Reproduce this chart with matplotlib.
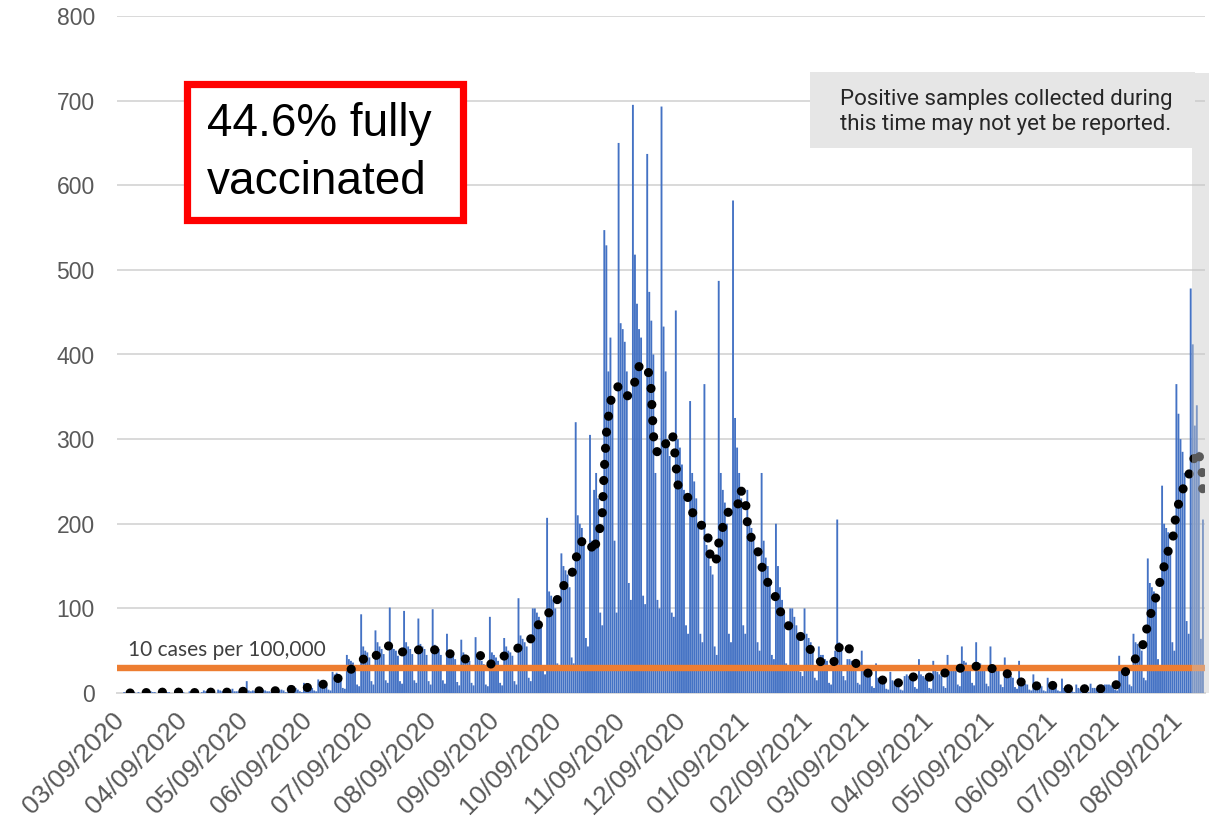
import datetime as dt
import numpy as np
import matplotlib.pyplot as plt
from matplotlib.patches import Rectangle

# daily positive cases, one row per week starting Mon 03/09/2020
start = dt.date(2020, 3, 9)
daily_cases = [
    0, 0, 1, 0, 0, 0, 1,
    1, 0, 1, 0, 0, 0, 2,
    1, 2, 1, 1, 0, 0, 2,
    2, 1, 1, 1, 0, 0, 3,
    1, 1, 2, 1, 0, 0, 2,
    1, 2, 1, 1, 0, 1, 3,
    2, 1, 2, 1, 1, 0, 4,
    3, 2, 2, 2, 1, 0, 5,
    2, 2, 2, 1, 1, 1, 14,
    3, 2, 3, 2, 1, 1, 6,
    4, 3, 2, 2, 1, 1, 5,
    4, 3, 4, 3, 1, 1, 9,
    6, 5, 6, 4, 2, 1, 12,
    9, 8, 8, 6, 3, 2, 16,
    14, 13, 12, 10, 4, 3, 25,
    22, 24, 20, 16, 6, 5, 45,
    40, 38, 36, 30, 10, 8, 93,
    55, 50, 48, 42, 14, 10, 74,
    60, 55, 52, 46, 15, 12, 101,
    55, 52, 50, 44, 14, 11, 97,
    60, 55, 52, 46, 15, 12, 88,
    58, 55, 52, 45, 14, 10, 99,
    57, 55, 52, 45, 15, 11, 70,
    50, 46, 44, 40, 13, 9, 63,
    48, 44, 42, 38, 12, 9, 66,
    44, 40, 38, 34, 10, 8, 90,
    48, 45, 42, 38, 12, 9, 65,
    55, 50, 48, 44, 14, 10, 112,
    68, 64, 60, 55, 18, 14, 100,
    100, 95, 90, 82, 28, 22, 207,
    120, 115, 110, 100, 35, 28, 165,
    150, 145, 140, 125, 42, 35, 320,
    210, 200, 195, 175, 65, 55, 305,
    180, 240, 260, 230, 95, 80, 547,
    529, 380, 420, 350, 180, 95, 650,
    437, 430, 415, 380, 130, 110, 695,
    518, 460, 430, 420, 115, 105, 637,
    474, 440, 400, 260, 110, 100, 693,
    433, 380, 300, 280, 95, 90, 452,
    300, 290, 270, 240, 80, 70, 345,
    260, 250, 230, 200, 70, 60, 365,
    175, 165, 150, 140, 55, 45, 487,
    260, 240, 225, 200, 70, 60, 582,
    325, 290, 260, 230, 80, 70, 240,
    200, 195, 180, 165, 60, 50, 260,
    180, 160, 150, 130, 45, 40, 200,
    150, 125, 110, 95, 35, 30, 100,
    100, 90, 80, 70, 25, 20, 100,
    70, 65, 60, 55, 18, 15, 55,
    45, 45, 40, 38, 12, 10, 40,
    50, 205, 60, 55, 20, 15, 40,
    40, 38, 35, 32, 12, 10, 50,
    28, 26, 24, 22, 8, 6, 35,
    18, 17, 16, 14, 5, 4, 25,
    15, 14, 13, 12, 4, 3, 20,
    22, 20, 19, 18, 7, 5, 40,
    22, 20, 18, 17, 6, 5, 38,
    26, 25, 22, 20, 8, 6, 45,
    33, 32, 30, 26, 10, 8, 55,
    38, 36, 33, 30, 12, 9, 60,
    36, 35, 33, 28, 11, 8, 55,
    32, 30, 28, 26, 10, 7, 42,
    24, 22, 20, 18, 7, 5, 38,
    13, 12, 11, 10, 4, 3, 22,
    10, 9, 8, 8, 3, 2, 18,
    10, 9, 8, 7, 3, 2, 17,
    6, 6, 5, 5, 2, 1, 10,
    6, 5, 5, 5, 2, 1, 11,
    6, 6, 5, 5, 2, 1, 10,
    10, 10, 9, 8, 4, 3, 44,
    30, 28, 26, 24, 10, 8, 70,
    60, 58, 55, 50, 18, 15, 159,
    130, 125, 120, 110, 40, 32, 245,
    200, 195, 190, 170, 60, 50, 365,
    330, 300, 285, 260, 85, 70, 478,
    412, 316, 340, 285, 64, 205,
]

# 7-day average (days since 03/09/2020)
avg_day = [4.9, 13.2, 21, 28.9, 36.7, 44.5, 52.3, 60.2, 67.5, 75.3, 83.2, 90.5,
           98.3, 105.2, 111.5, 116.9, 121.3, 126.2, 131.6, 137, 143.8, 150.2,
           156.6, 162.9, 169.3, 176.1, 180.5, 185.4, 189.3, 194.7, 200.6, 204,
           209, 211.8, 215.8, 217.7, 222.1, 223.6, 226.5, 229.9, 231.9, 233.4,
           235.8, 236.5, 237.3, 238.3, 239.7, 240.7, 243.6, 245.6, 247.1, 250.5,
           252.4, 254.4, 258.3, 259.8, 260.5, 261.2, 261.7, 264.2, 266.6, 267.6,
           270.5, 271.5, 273, 277.4, 279.4, 282.3, 287.2, 289.1, 291.6, 292.6,
           294.5, 296.5, 299.4, 302.3, 303.3, 305.8, 306.5, 307.2, 309.7, 313.1,
           314.6, 317.5, 320.9, 323.4, 327.3, 332.7, 337.1, 341, 345.9, 351.3,
           352.2, 356.6, 358.6, 362, 367.4, 374.3, 381.1, 388, 394.8, 401.7,
           409, 415.9, 423.2, 430, 435.9, 442.3, 449.6, 456.9, 464.3, 472.1,
           479.9, 487.3, 491.7, 496.6, 500.5, 502.4, 504.4, 506.8, 508.8, 510.8,
           512.7, 515.2, 516.1, 517.6, 519.6, 522.5, 524.5, 527.4, 529.5, 530]
avg_cases = [0, 0.5, 1, 1, 0.5, 1, 1, 2, 2.5, 2.5, 4, 6,
             9.5, 14.6, 26, 33, 47, 44, 56, 48, 51, 51,
             51, 45, 40, 45, 32, 43, 44, 53, 62, 79,
             90, 106, 114, 132, 145, 164, 182, 179, 165, 184,
             202, 240, 278, 317, 335, 354, 362, 354, 349, 355,
             372, 389, 383, 363, 330, 300, 287, 283, 286, 305,
             304, 284, 246, 235, 218, 201, 195, 156, 154, 173,
             192, 208, 222, 221, 240, 235, 215, 196, 178, 163,
             144, 128, 113, 95, 79, 68, 54, 40, 32, 40,
             59, 54, 41, 28, 22, 14, 12, 19, 18, 22,
             28, 32, 31, 27, 21, 11, 8, 9, 5, 5,
             5, 9, 24, 39, 56, 75, 93, 112, 130, 148,
             166, 181, 200, 219, 238, 252, 271, 287, 268, 231]

tick_labels = ["03/09/2020", "04/09/2020", "05/09/2020", "06/09/2020",
               "07/09/2020", "08/09/2020", "09/09/2020", "10/09/2020",
               "11/09/2020", "12/09/2020", "01/09/2021", "02/09/2021",
               "03/09/2021", "04/09/2021", "05/09/2021", "06/09/2021",
               "07/09/2021", "08/09/2021"]
threshold = 29.5

TICK_FONT = ["Liberation Sans", "DejaVu Sans"]

fig = plt.figure(figsize=(12.12, 8.22), dpi=100)
ax = fig.add_axes([117 / 1212, 1 - 693 / 822, 1088 / 1212, 677 / 822])

days = np.arange(len(daily_cases))
ax.bar(days, daily_cases, width=0.92, color="#4472C4", linewidth=0,
       snap=False, zorder=2)
ax.axhline(threshold, color="#ED7D31", lw=4.6, zorder=3)
ax.plot(avg_day, avg_cases, color="black", lw=6.6,
        linestyle=(0, (0.01, 1.75)), dash_capstyle="round", zorder=4)

ax.set_xlim(-1.5, 531)
ax.set_ylim(0, 800)
ax.set_yticks(range(0, 801, 100))
tick_pos = [(dt.datetime.strptime(s, "%m/%d/%Y").date() - start).days for s in tick_labels]
ax.set_xticks(tick_pos)
ax.set_xticklabels(tick_labels, rotation=45, ha="right", va="center",
                   rotation_mode="anchor")
ax.tick_params(axis="both", length=0, labelcolor="#595959", labelsize=16.5)
ax.tick_params(axis="y", pad=16)
ax.tick_params(axis="x", pad=17, labelsize=19)
for lab in ax.get_xticklabels() + ax.get_yticklabels():
    lab.set_family(TICK_FONT)

ax.yaxis.grid(True, color="#D9D9D9", lw=1.4)
ax.set_axisbelow(True)
for side in ["top", "right", "left"]:
    ax.spines[side].set_visible(False)
ax.spines["bottom"].set_color("#D9D9D9")
ax.spines["bottom"].set_linewidth(1.4)
ax.spines["bottom"].set_zorder(1)

# shaded "not yet reported" period
ax.add_patch(Rectangle((524.5, 0), 8.6, 733, facecolor="#C8C8C8", alpha=0.45,
                       lw=0, clip_on=False, zorder=6))
fig.patches.append(Rectangle((810 / 1212, 1 - 148 / 822), 385 / 1212, 76 / 822,
                             transform=fig.transFigure, facecolor="#E6E6E6",
                             lw=0, zorder=7))
fig.text(1006 / 1212, 1 - 112 / 822,
         "Positive samples collected during\nthis time may not yet be reported.",
         ha="center", va="center", fontsize=16, color="#262626",
         family=["Roboto", "DejaVu Sans"], linespacing=1.2, zorder=8)

# vaccination box
fig.patches.append(Rectangle((187 / 1212, 1 - 220 / 822), 276 / 1212, 136 / 822,
                             transform=fig.transFigure, facecolor="white",
                             edgecolor="#FF0000", lw=5.2, zorder=7))
fig.text(207 / 1212, 1 - 102 / 822, "44.6% fully\nvaccinated", ha="left", va="top",
         fontsize=33, color="black", family=["Liberation Sans", "DejaVu Sans"],
         linespacing=1.42, zorder=8)

ax.text(4, 51, "10 cases per 100,000", ha="left", va="center", fontsize=15,
        color="#404040", family=["Lato", "DejaVu Sans"], zorder=5)

fig.savefig("out.png", dpi=100, facecolor="white")
